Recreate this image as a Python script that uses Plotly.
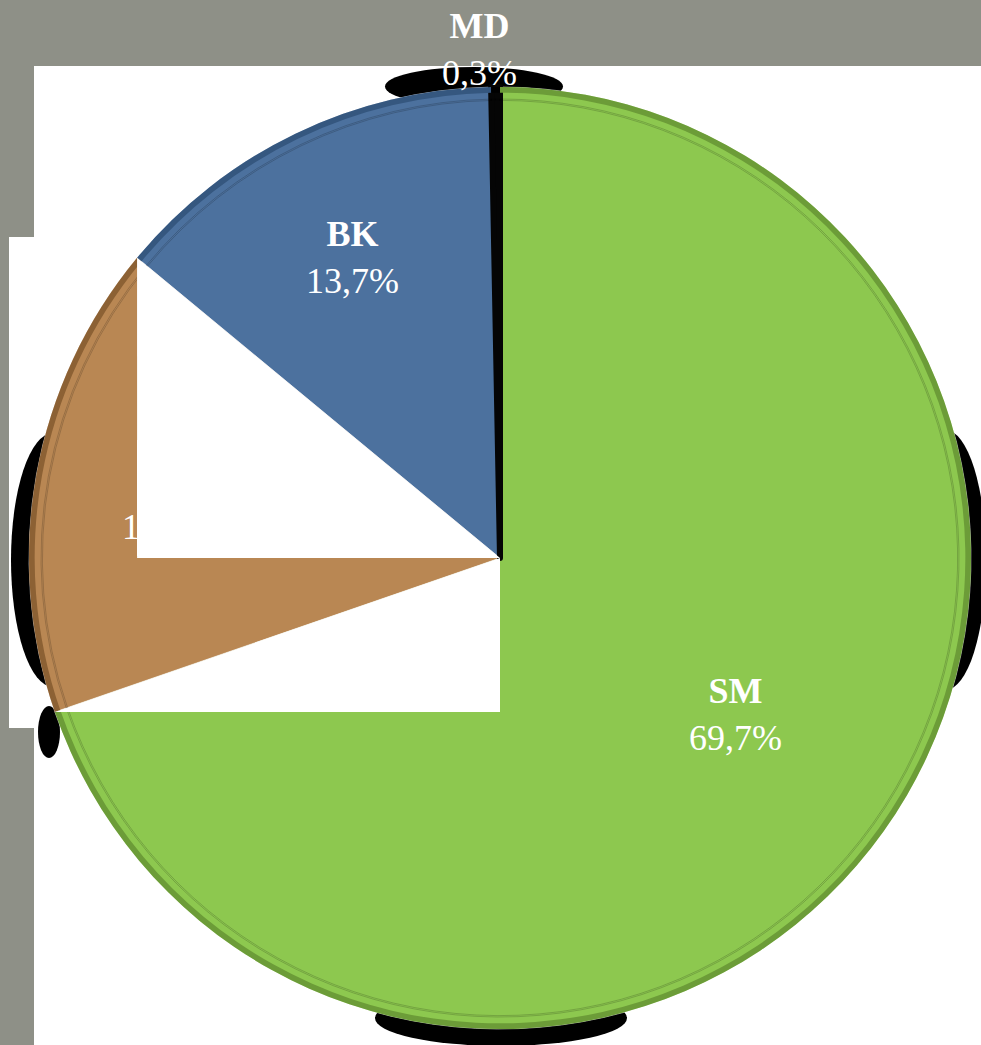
import math
import plotly.graph_objects as go

# ---------------- data ----------------
labels = ["SM", "LL", "BK", "MD"]          # brown slice name is hidden in the reference
values = [69.7, 16.3, 13.7, 0.3]
pct_text = ["69,7%", "16,3%", "13,7%", "0,3%"]
colors = ["#8DC84F", "#B98753", "#4C719E", "#050505"]
rim_colors = ["#6C9C38", "#8C6134", "#35577F", "#000000"]

# ---------------- geometry (pixels) ----------------
W, H = 981, 1045
CX, CY, R = 500, 558, 471


def px(x):
    return x / W


def py(y):
    return 1 - y / H


def dom(r):
    return dict(x=[px(CX - r), px(CX + r)], y=[py(CY + r), py(CY - r)])


fig = go.Figure()

# main pie
fig.add_trace(go.Pie(
    labels=labels, values=values, sort=False, direction="clockwise", rotation=0,
    marker=dict(colors=colors,
                line=dict(color=["rgba(255,255,255,0.55)"] * 3 + ["#050505"],
                          width=[1, 1, 1, 6])),
    textinfo="none", hoverinfo="skip", showlegend=False, domain=dom(R),
))
# dark outer rim (bevel)
fig.add_trace(go.Pie(
    labels=labels, values=values, sort=False, direction="clockwise", rotation=0,
    hole=0.988,
    marker=dict(colors=rim_colors, line=dict(width=0)),
    textinfo="none", hoverinfo="skip", showlegend=False, domain=dom(R),
))
# inner bevel line
fig.add_trace(go.Pie(
    labels=labels, values=values, sort=False, direction="clockwise", rotation=0,
    hole=0.997,
    marker=dict(colors=["rgba(0,0,0,0)"] * 4, line=dict(color="rgba(0,0,0,0.18)", width=1)),
    textinfo="none", hoverinfo="skip", showlegend=False, domain=dom(R - 12),
))

# ---------------- background & artefact shapes ----------------
shapes = []


def rect(x0, y0, x1, y1, color, layer="below"):
    shapes.append(dict(type="rect", xref="paper", yref="paper", layer=layer,
                       x0=px(x0), x1=px(x1), y0=py(y1), y1=py(y0),
                       fillcolor=color, line=dict(width=0)))


def ellipse(x0, y0, x1, y1, color, layer="below"):
    shapes.append(dict(type="circle", xref="paper", yref="paper", layer=layer,
                       x0=px(x0), x1=px(x1), y0=py(y1), y1=py(y0),
                       fillcolor=color, line=dict(width=0)))


def poly(pts, color, layer="above"):
    d = "M " + " L ".join(f"{px(x)},{py(y)}" for x, y in pts) + " Z"
    shapes.append(dict(type="path", xref="paper", yref="paper", layer=layer, path=d,
                       fillcolor=color, line=dict(width=0)))


rect(34, 66, W, H, "white")
rect(9, 237, 34, 728, "white")

# black shadow artefacts around the pie
ellipse(385, 67, 563, 106, "black")
ellipse(11, 433, 95, 687, "black")
ellipse(905, 430, 986, 690, "black")
ellipse(375, 990, 627, 1046, "black")
ellipse(38, 706, 60, 758, "black")

# white cover triangles over the pie (computed from slice boundaries)
cum = 0.0
bounds = []
for v in values:
    cum += v
    a = math.radians(360 * cum / 100)
    bounds.append((CX + R * math.sin(a), CY - R * math.cos(a)))
p1 = bounds[0]   # SM / brown boundary end
p2 = bounds[1]   # brown / BK boundary end
poly([p2, (p2[0], CY), (CX, CY)], "white")
poly([(CX, CY), p1, (CX, p1[1])], "white")

# ---------------- labels ----------------
FONT = "Liberation Serif"
label_pos = {"SM": (735, 714), "LL": (168, 503), "BK": (352, 257), "MD": (479, 49)}
annotations = []
for lab, pct in zip(labels, pct_text):
    x, y = label_pos[lab]
    annotations.append(dict(
        x=px(x), y=py(y), xref="paper", yref="paper", xanchor="center", yanchor="middle",
        text=f"<b>{lab}</b><br>{pct}", showarrow=False,
        font=dict(family=FONT, size=36, color="white"), align="center",
    ))
# white patch hiding most of the brown label (as in the reference)
annotations.append(dict(
    x=px(137), y=py(440), xref="paper", yref="paper", xanchor="left", yanchor="top",
    text=" ", showarrow=False, width=198, height=116, bgcolor="white",
    borderpad=0, borderwidth=0, font=dict(size=10),
))

fig.update_layout(
    width=W, height=H, margin=dict(l=0, r=0, t=0, b=0),
    paper_bgcolor="#8E9087", plot_bgcolor="#8E9087",
    shapes=shapes, annotations=annotations, showlegend=False,
)

fig.write_html(
    "out.html",
    config={"displayModeBar": False},
    post_script="document.body.style.margin='0';document.body.style.overflow='hidden';",
)
